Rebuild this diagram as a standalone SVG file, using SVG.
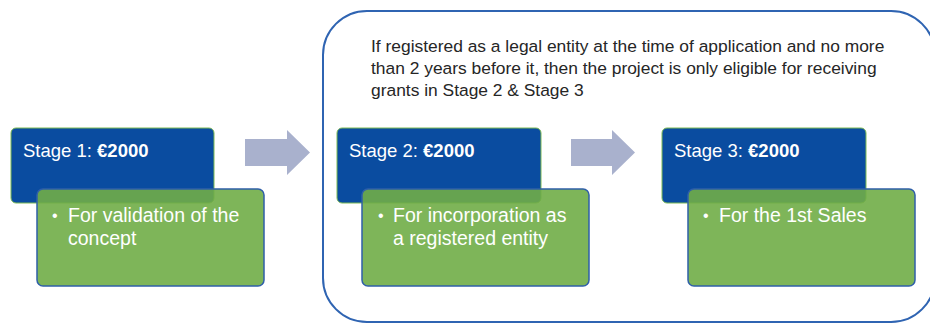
<svg xmlns="http://www.w3.org/2000/svg" width="930" height="323" viewBox="0 0 930 323">
  <style>
    .frame { fill: #FFFFFF; stroke: #2F64B2; stroke-width: 2; }
    .note { font-family: "Liberation Sans", Arial, sans-serif; font-size: 17.4px; fill: #262626; }
    .stage { fill: #0A4CA0; stroke: #7DBA55; stroke-width: 1; }
    .detail { fill: #70AD47; fill-opacity: 0.9; stroke: #2F5FA8; stroke-width: 1.5; }
    .title { font-family: "Liberation Sans", Arial, sans-serif; font-size: 18.5px; fill: #FFFFFF; }
    .title .b { font-weight: bold; }
    .item { font-family: "Liberation Sans", Arial, sans-serif; font-size: 19.5px; fill: #FFFFFF; }
    .dot { font-family: "Liberation Sans", Arial, sans-serif; font-size: 16px; fill: #FFFFFF; }
    .arrow { fill: #A9B1CD; stroke: none; }
  </style>

  <g id="container">
    <rect class="frame" x="323" y="11" width="612" height="311" rx="44" ry="44"/>
    <text class="note" x="371" y="52">If registered as a legal entity at the time of application and no more</text>
    <text class="note" x="371" y="74">than 2 years before it, then the project is only eligible for receiving</text>
    <text class="note" x="371" y="96">grants in Stage 2 &amp; Stage 3</text>
  </g>

  <g id="stage1">
    <rect class="stage" x="11" y="128" width="203" height="75" rx="5" ry="5"/>
    <text class="title" x="23" y="157">Stage 1: <tspan class="b">€2000</tspan></text>
  </g>
  <g id="stage1-detail">
    <rect class="detail" x="37" y="189" width="227" height="97" rx="6" ry="6"/>
    <text class="dot" x="52" y="221">•</text>
    <text class="item" x="68" y="222">For validation of the</text>
    <text class="item" x="68" y="245">concept</text>
  </g>

  <g id="stage2">
    <rect class="stage" x="337" y="128" width="204" height="75" rx="5" ry="5"/>
    <text class="title" x="349" y="157">Stage 2: <tspan class="b">€2000</tspan></text>
  </g>
  <g id="stage2-detail">
    <rect class="detail" x="362" y="189" width="227" height="97" rx="6" ry="6"/>
    <text class="dot" x="378" y="221">•</text>
    <text class="item" x="393" y="222">For incorporation as</text>
    <text class="item" x="393" y="245">a registered entity</text>
  </g>

  <g id="stage3">
    <rect class="stage" x="662" y="128" width="204" height="75" rx="5" ry="5"/>
    <text class="title" x="674" y="157">Stage 3: <tspan class="b">€2000</tspan></text>
  </g>
  <g id="stage3-detail">
    <rect class="detail" x="688" y="189" width="227" height="97" rx="6" ry="6"/>
    <text class="dot" x="703" y="221">•</text>
    <text class="item" x="719" y="222">For the 1st Sales</text>
  </g>

  <g id="connectors">
    <polygon class="arrow" points="245,139 287,139 287,130 310,152.5 287,175 287,166 245,166"/>
    <polygon class="arrow" points="571,139 612,139 612,130 635,152.5 612,175 612,166 571,166"/>
  </g>
</svg>
